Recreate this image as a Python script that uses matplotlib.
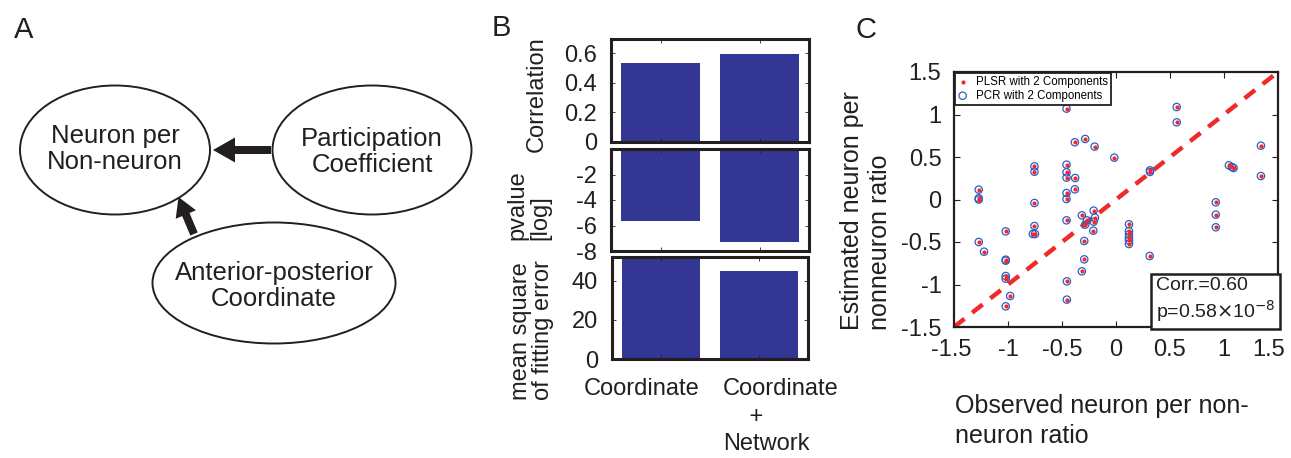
"""Three-panel figure: path diagram, bar comparison and PLSR/PCR scatter."""

import matplotlib
matplotlib.use("Agg")
import matplotlib.pyplot as plt
from matplotlib.patches import Ellipse
from matplotlib.transforms import ScaledTranslation

plt.rcParams["font.family"] = ["Liberation Sans", "DejaVu Sans"]
plt.rcParams["axes.unicode_minus"] = False

INK = "#231f20"
BAR = "#333692"
RED = "#ee2a2a"
BLUE = "#2f5fc4"

# panel B data
categories = ["Coordinate", "Coordinate\n    +\nNetwork"]
correlation = [0.53, 0.595]
pvalue_log = [-5.63, -7.26]
mse = [51.0, 45.0]

# panel C data (observed vs. estimated ratio)
observed = [-0.458, 0.562, 0.562, -0.381, -0.285, -0.198, -0.016, 1.342, 1.342,
            1.045, 1.073, 1.089, 0.315, 0.315, -0.755, -0.755, -0.458, -0.458,
            -0.458, -0.378, -0.381, -0.458, -0.458, -1.271, -1.271, -1.271,
            -0.755, -0.458, -0.207, -0.316, -0.269, -0.285, -0.195, -0.207,
            -0.210, -0.755, -0.770, -0.750, -1.021, -1.271, -1.222, -1.021,
            -1.021, -1.021, -1.021, -0.980, -1.021, -0.294, -0.294, -0.316,
            -0.455, -0.455, 0.120, 0.120, 0.120, 0.120, 0.120, 0.120, 0.312,
            0.924, 0.924, 0.924]
plsr_est = [1.069, 1.088, 0.908, 0.673, 0.712, 0.622, 0.492, 0.633, 0.276,
            0.402, 0.382, 0.371, 0.343, 0.324, 0.390, 0.327, 0.410, 0.320,
            0.257, 0.253, 0.120, 0.076, 0.006, 0.116, 0.014, 0.0, -0.041,
            -0.245, -0.131, -0.186, -0.245, -0.296, -0.214, -0.261, -0.367,
            -0.312, -0.406, -0.406, -0.375, -0.5, -0.614, -0.708, -0.720,
            -0.9, -0.931, -1.135, -1.257, -0.488, -0.704, -0.845, -0.963,
            -1.178, -0.292, -0.371, -0.41, -0.449, -0.48, -0.524, -0.665,
            -0.033, -0.178, -0.327]
pcr_est = list(plsr_est)
ratio_ticks = [-1.5, -1, -0.5, 0, 0.5, 1, 1.5]
identity = [-1.5, 1.5]

W, H = 1291, 458
fig = plt.figure(figsize=(W / 100, H / 100), dpi=100)


def box(x0, y0, x1, y1):
    """Pixel box (top-left origin) -> figure fraction rect."""
    return [x0 / W, 1 - y1 / H, (x1 - x0) / W, (y1 - y0) / H]


def fx(x):
    return x / W


def fy(y):
    return 1 - y / H


def shift(label, dx):
    label.set_transform(label.get_transform()
                        + ScaledTranslation(dx / 100, 0, fig.dpi_scale_trans))


# ---------------- panel A: diagram ----------------
ax_a = fig.add_axes([0, 0, 480 / W, 1])
ax_a.set_xlim(0, 480)
ax_a.set_ylim(458, 0)
ax_a.axis("off")
nodes = [
    ((115, 150), 190, 129, "Neuron per\nNon-neuron", (115, 149)),
    ((372, 150), 199, 129, "Participation\nCoefficient", (372, 152)),
    ((274, 283), 243, 121, "Anterior-posterior\nCoordinate", (274, 286)),
]
for center, w, h, label, tpos in nodes:
    ax_a.add_patch(Ellipse(center, w, h, fill=False, ec=INK, lw=1.4))
    ax_a.text(*tpos, label, ha="center", va="center", fontsize=18.5,
              color=INK, linespacing=1.15)
ax_a.arrow(271, 150, -58, 0, width=8, head_width=25, head_length=22,
           length_includes_head=True, color=INK, lw=0)
ax_a.arrow(194, 234, -15.5, -37, width=8, head_width=22, head_length=19,
           length_includes_head=True, color=INK, lw=0)

# ---------------- panel B: bars ----------------
rects = [box(611, 39, 809, 142), box(611, 149, 809, 251), box(612, 257, 808, 359)]
values = [correlation, pvalue_log, mse]
ylims = [(0, 0.695), (-8, 0), (0, 52)]
yticks = [[0, 0.2, 0.4, 0.6], [-8, -6, -4, -2], [0, 20, 40]]
ylabels = ["Correlation", "pvalue\n[log]", "mean square\nof fitting error"]
label_pos = [(537, 152), (529, 240), (532, 400)]
x = [1, 2]
axes_b = []
for rect, vals, lim, ticks in zip(rects, values, ylims, yticks):
    ax = fig.add_axes(rect)
    ax.bar(x, vals, width=0.8, color=BAR, edgecolor="none")
    ax.set_xlim(0.5, 2.5)
    ax.set_ylim(*lim)
    ax.set_yticks(ticks)
    ax.set_yticklabels([f"{t:g}" for t in ticks])
    ax.set_xticks(x)
    ax.set_xticklabels([])
    ax.tick_params(direction="in", top=True, right=True, length=3,
                   width=0.6, labelsize=17, pad=10, colors=INK)
    for s in ax.spines.values():
        s.set_linewidth(2.2)
        s.set_color(INK)
    axes_b.append(ax)
axes_b[2].set_xticklabels(categories, ma="left", linespacing=1.32)
axes_b[2].tick_params(axis="x", pad=14)
for lab, dx in zip(axes_b[2].get_xticklabels(), [-19, 22]):
    shift(lab, dx)
for text, (px, py) in zip(ylabels, label_pos):
    fig.text(fx(px), fy(py), text, rotation=90, ha="center", va="bottom",
             ma="left", fontsize=17, color=INK, linespacing=1.05)

# ---------------- panel C: scatter ----------------
ax_c = fig.add_axes(box(954, 72, 1278, 327))
ax_c.plot(identity, identity, color=RED, lw=3.2, dashes=(3, 2.2), zorder=1)
ax_c.scatter(observed, plsr_est, s=9, color=RED, lw=0, zorder=3,
             label="PLSR with 2 Components")
ax_c.scatter(observed, pcr_est, s=28, facecolor="none", edgecolor=BLUE,
             lw=0.9, zorder=2, label="PCR with 2 Components")
ax_c.set_xlim(-1.5, 1.5)
ax_c.set_ylim(-1.5, 1.5)
ax_c.set_xticks(ratio_ticks)
ax_c.set_yticks(ratio_ticks)
ax_c.set_xticklabels([f"{t:g}" for t in ratio_ticks])
ax_c.set_yticklabels([f"{t:g}" for t in ratio_ticks])
ax_c.tick_params(direction="in", top=True, right=True, length=4,
                 width=0.8, labelsize=17, pad=9, colors=INK)
shift(ax_c.get_xticklabels()[-1], -9)
shift(ax_c.get_xticklabels()[0], -3)
for s in ax_c.spines.values():
    s.set_linewidth(1.6)
    s.set_color(INK)
leg = ax_c.legend(loc="upper left", fontsize=8.3, handlelength=0.8,
                  handletextpad=0.8, borderpad=0.25, labelspacing=0.15,
                  borderaxespad=0.1, fancybox=False, framealpha=1,
                  markerscale=1.0)
leg.get_frame().set_edgecolor(INK)
leg.get_frame().set_linewidth(1.3)
ax_c.text(0.992, 0.012, "Corr.=0.60\np=0.58$\\times$10$^{-8}$",
          transform=ax_c.transAxes, ha="right", va="bottom", ma="left",
          fontsize=14, color=INK, linespacing=1.2,
          bbox=dict(boxstyle="square,pad=0.25", fc="white", ec=INK, lw=1.8))

fig.text(fx(866), fy(330), "Estimated neuron per\nnonneuron ratio",
         rotation=90, ha="center", va="bottom", ma="left", fontsize=18,
         color=INK, linespacing=1.2)
fig.text(fx(955), fy(421), "Observed neuron per non-\nneuron ratio",
         ha="left", va="center", ma="left", fontsize=18, color=INK,
         linespacing=1.3)

# panel letters
for letter, px, py in [("A", 24, 30), ("B", 501, 28), ("C", 866, 30)]:
    fig.text(fx(px), fy(py), letter, ha="center", va="center", fontsize=21,
             color=INK)

fig.savefig("out.png", dpi=100)
